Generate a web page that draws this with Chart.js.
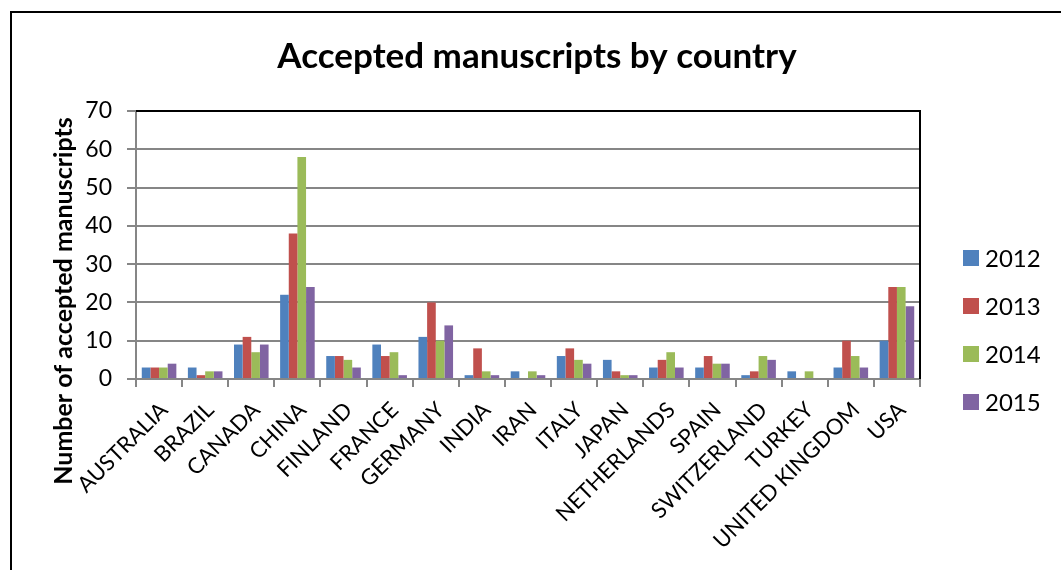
<!DOCTYPE html>
<html>
<head>
  <title>Accepted manuscripts by country</title>
  <style>
    body { margin: 0; background: #fff; }
    #frame {
      position: absolute; left: 10px; top: 11px;
      width: 1100px; height: 600px;
      border: 2px solid #000;
    }
    #chart { position: absolute; left: 0; top: 0; }
  </style>
</head>
<body>
  <div id="frame"></div>
  <canvas id="chart" width="1061" height="570"></canvas>

  <script src="https://cdn.jsdelivr.net/npm/chart.js@4.4.0/dist/chart.umd.min.js"></script>
  <script>
    var countries = ['AUSTRALIA', 'BRAZIL', 'CANADA', 'CHINA', 'FINLAND', 'FRANCE', 'GERMANY', 'INDIA',
      'IRAN', 'ITALY', 'JAPAN', 'NETHERLANDS', 'SPAIN', 'SWITZERLAND', 'TURKEY', 'UNITED KINGDOM', 'USA'];
    var years = ['2012', '2013', '2014', '2015'];
    var y2012 = [3, 3, 9, 22, 6, 9, 11, 1, 2, 6, 5, 3, 3, 1, 2, 3, 10];
    var y2013 = [3, 1, 11, 38, 6, 6, 20, 8, 0, 8, 2, 5, 6, 2, 0, 10, 24];
    var y2014 = [3, 2, 7, 58, 5, 7, 10, 2, 2, 5, 1, 7, 4, 6, 2, 6, 24];
    var y2015 = [4, 2, 9, 24, 3, 1, 14, 1, 1, 4, 1, 3, 4, 5, 0, 3, 19];
    var yTicks = [0, 10, 20, 30, 40, 50, 60, 70];
    var colors = ['#4F81BD', '#C0504D', '#9BBB59', '#8064A2'];

    var FONT = 'Lato, "Liberation Sans", sans-serif';
    var AXIS_GRAY = '#868686';

    // plot frame (black top/right), title, rotated y-axis title, legend on the right
    var extras = {
      id: 'extras',
      beforeDatasetsDraw: function(chart) {
        var a = chart.chartArea, ctx = chart.ctx;
        ctx.save();
        ctx.strokeStyle = '#000';
        ctx.lineWidth = 2;
        ctx.beginPath();
        ctx.moveTo(a.left, a.top);
        ctx.lineTo(a.right, a.top);
        ctx.lineTo(a.right, a.bottom);
        ctx.stroke();
        ctx.restore();
      },
      afterDraw: function(chart) {
        var ctx = chart.ctx;
        ctx.save();
        ctx.fillStyle = '#000';
        ctx.textAlign = 'center';
        ctx.textBaseline = 'middle';
        ctx.font = 'bold 35px ' + FONT;
        ctx.fillText('Accepted manuscripts by country', 537, 57);

        ctx.translate(64, 301);
        ctx.rotate(-Math.PI / 2);
        ctx.font = 'bold 25px ' + FONT;
        ctx.fillText('Number of accepted manuscripts', 0, 0);
        ctx.restore();

        // legend
        ctx.save();
        ctx.font = '24px ' + FONT;
        ctx.textBaseline = 'middle';
        chart.data.datasets.forEach(function(ds, i) {
          var cy = 258 + i * 48;
          ctx.fillStyle = ds.backgroundColor;
          ctx.fillRect(963, cy - 8, 16, 16);
          ctx.fillStyle = '#000';
          ctx.fillText(ds.label, 985, cy + 1);
        });
        ctx.restore();
      }
    };

    var series = [y2012, y2013, y2014, y2015];
    var datasets = years.map(function(y, i) {
      return {
        label: y,
        data: series[i],
        backgroundColor: colors[i],
        borderWidth: 0,
        categoryPercentage: 0.75,
        barPercentage: 1.0
      };
    });

    new Chart(document.getElementById('chart'), {
      type: 'bar',
      data: { labels: countries, datasets: datasets },
      plugins: [extras],
      options: {
        responsive: false,
        animation: false,
        devicePixelRatio: 1,
        layout: { padding: { left: 0, right: 141, top: 111, bottom: 0 } },
        plugins: {
          title: { display: false },
          legend: { display: false },
          tooltip: { enabled: false }
        },
        scales: {
          x: {
            offset: true,
            afterFit: function(s) { s.height = 191; },
            grid: {
              offset: true,
              drawOnChartArea: false,
              drawTicks: true,
              tickLength: 8,
              color: AXIS_GRAY,
              lineWidth: 2
            },
            border: { color: AXIS_GRAY, width: 2 },
            ticks: {
              color: '#000',
              font: { family: FONT, size: 22 },
              minRotation: 45,
              maxRotation: 45,
              autoSkip: false,
              padding: 10,
              labelOffset: 5
            }
          },
          y: {
            min: 0,
            max: 70,
            afterFit: function(s) { s.width = 136; },
            afterBuildTicks: function(s) {
              s.ticks = yTicks.map(function(v) { return { value: v }; });
            },
            grid: {
              color: AXIS_GRAY,
              lineWidth: 2,
              tickLength: 9
            },
            border: { color: AXIS_GRAY, width: 2 },
            ticks: {
              color: '#000',
              font: { family: FONT, size: 23 },
              padding: 15
            }
          }
        }
      }
    });
  </script>
</body>
</html>
